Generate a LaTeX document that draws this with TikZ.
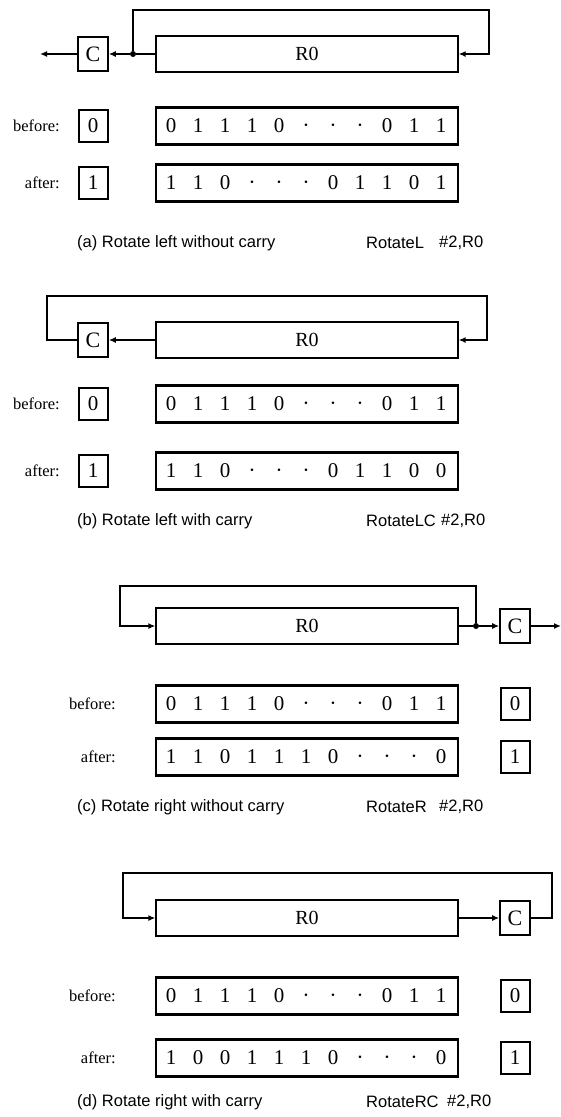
\documentclass[tikz,border=0pt]{standalone}
\usepackage{fontspec}
\setmainfont{Liberation Serif}
\newfontfamily\capfont{Liberation Sans}
\usetikzlibrary{arrows.meta,positioning}
\newcommand\bitdot{{\fontsize{30}{30}\selectfont$\cdot$}}
\tikzset{
  % Register on the shift path
  regbox/.style={rectangle,draw,line width=1.3pt,
    minimum width=302pt,minimum height=36pt,inner sep=0pt,
    font=\fontsize{20}{20}\selectfont},
  % Register contents (before / after)
  valbox/.style={rectangle,draw,line width=2.4pt,
    minimum width=302pt,minimum height=37pt,inner sep=0pt},
  % Carry flag on the shift path
  cbox/.style={rectangle,draw,line width=1.6pt,
    minimum width=30pt,minimum height=34pt,inner sep=0pt,
    font=\fontsize{22}{22}\selectfont},
  % Carry flag contents
  flagbox/.style={rectangle,draw,line width=2pt,
    minimum width=29pt,minimum height=32pt,inner sep=0pt,
    font=\fontsize{21}{21}\selectfont},
  bitnode/.style={inner sep=0pt,font=\fontsize{21}{21}\selectfont},
  rowlbl/.style={anchor=east,inner sep=0pt,font=\fontsize{16.5}{16.5}\selectfont},
  capt/.style={anchor=west,inner sep=0pt,font=\capfont\fontsize{16.5}{16.5}\selectfont},
  % Connectors
  arr/.style={-{Latex[length=7pt,width=6pt]},line width=1.6pt},
  wire/.style={line width=1.6pt},
  jdot/.style={circle,fill,inner sep=0pt,minimum size=6pt},
}
\begin{document}
\begin{tikzpicture}[x=1pt,y=-1pt]
  \useasboundingbox (0,0) rectangle (561,1117);

  % (a) rotate left without carry
  \node[regbox] (ra) at (307,54) {R0};
  \node[cbox] (ca) at (93,54) {C};
  \node[jdot] (ja) at (133,54) {};
  \coordinate (outa) at (40,54);
  \coordinate (topa) at (489,10);
  \draw[arr] (ca.west) -- (outa);
  \draw[wire] (ra.west) -- (ja);
  \draw[arr] (ja) -- (ca.east);
  \draw[arr] (ja) |- (topa) |- (ra.east);

  \node[rowlbl] (la1) at (60,126) {before:};
  \node[flagbox] (fa1) at (93,126) {0};
  \node[valbox] (va1) at (307,126) {};
  \foreach \b [count=\i] in {0,1,1,1,0,\bitdot,\bitdot,\bitdot,0,1,1}
    \node[bitnode] (va1-\i) at (144+27*\i,126) {\b};

  \node[rowlbl] (la2) at (60,183) {after:};
  \node[flagbox] (fa2) at (93,183) {1};
  \node[valbox] (va2) at (307,183) {};
  \foreach \b [count=\i] in {1,1,0,\bitdot,\bitdot,\bitdot,0,1,1,0,1}
    \node[bitnode] (va2-\i) at (144+27*\i,183) {\b};

  \node[capt] (capa) at (77,243) {(a) Rotate left without carry};
  \node[capt] (opa) at (366,243) {RotateL};
  \node[capt] (arga) at (439,243) {\#2,R0};

  % (b) rotate left with carry
  \node[regbox] (rb) at (307,340) {R0};
  \node[cbox] (cb) at (93,340) {C};
  \coordinate (lftb) at (47,296);
  \coordinate (topb) at (487,296);
  \draw[arr] (rb.west) -- (cb.east);
  \draw[arr] (cb.west) -| (lftb) -- (topb) |- (rb.east);

  \node[rowlbl] (lb1) at (60,404) {before:};
  \node[flagbox] (fb1) at (93,404) {0};
  \node[valbox] (vb1) at (307,404) {};
  \foreach \b [count=\i] in {0,1,1,1,0,\bitdot,\bitdot,\bitdot,0,1,1}
    \node[bitnode] (vb1-\i) at (144+27*\i,404) {\b};

  \node[rowlbl] (lb2) at (60,471) {after:};
  \node[flagbox] (fb2) at (93,471) {1};
  \node[valbox] (vb2) at (307,471) {};
  \foreach \b [count=\i] in {1,1,0,\bitdot,\bitdot,\bitdot,0,1,1,0,0}
    \node[bitnode] (vb2-\i) at (144+27*\i,471) {\b};

  \node[capt] (capb) at (77,521) {(b) Rotate left with carry};
  \node[capt] (opb) at (366,521) {RotateLC};
  \node[capt] (argb) at (441,521) {\#2,R0};

  % (c) rotate right without carry
  \node[regbox] (rc) at (307,626) {R0};
  \node[cbox] (cc) at (515,626) {C};
  \node[jdot] (jc) at (476,626) {};
  \coordinate (outc) at (561,626);
  \coordinate (lftc) at (120,586);
  \draw[wire] (rc.east) -- (jc);
  \draw[arr] (jc) -- (cc.west);
  \draw[arr] (cc.east) -- (outc);
  \draw[arr] (jc) |- (lftc) |- (rc.west);

  \node[rowlbl] (lc1) at (116,704) {before:};
  \node[flagbox] (fc1) at (515,704) {0};
  \node[valbox] (vc1) at (307,704) {};
  \foreach \b [count=\i] in {0,1,1,1,0,\bitdot,\bitdot,\bitdot,0,1,1}
    \node[bitnode] (vc1-\i) at (144+27*\i,704) {\b};

  \node[rowlbl] (lc2) at (116,757) {after:};
  \node[flagbox] (fc2) at (515,757) {1};
  \node[valbox] (vc2) at (307,757) {};
  \foreach \b [count=\i] in {1,1,0,1,1,1,0,\bitdot,\bitdot,\bitdot,0}
    \node[bitnode] (vc2-\i) at (144+27*\i,757) {\b};

  \node[capt] (capc) at (77,807) {(c) Rotate right without carry};
  \node[capt] (opc) at (366,807) {RotateR};
  \node[capt] (argc) at (439,807) {\#2,R0};

  % (d) rotate right with carry
  \node[regbox] (rd) at (307,918) {R0};
  \node[cbox] (cd) at (515,918) {C};
  \coordinate (rgtd) at (552,873);
  \coordinate (lftd) at (123,873);
  \draw[arr] (rd.east) -- (cd.west);
  \draw[arr] (cd.east) -| (rgtd) -- (lftd) |- (rd.west);

  \node[rowlbl] (ld1) at (116,996) {before:};
  \node[flagbox] (fd1) at (515,996) {0};
  \node[valbox] (vd1) at (307,996) {};
  \foreach \b [count=\i] in {0,1,1,1,0,\bitdot,\bitdot,\bitdot,0,1,1}
    \node[bitnode] (vd1-\i) at (144+27*\i,996) {\b};

  \node[rowlbl] (ld2) at (116,1058) {after:};
  \node[flagbox] (fd2) at (515,1058) {1};
  \node[valbox] (vd2) at (307,1058) {};
  \foreach \b [count=\i] in {1,0,0,1,1,1,0,\bitdot,\bitdot,\bitdot,0}
    \node[bitnode] (vd2-\i) at (144+27*\i,1058) {\b};

  \node[capt] (capd) at (77,1102) {(d) Rotate right with carry};
  \node[capt] (opd) at (366,1102) {RotateRC};
  \node[capt] (argd) at (447,1102) {\#2,R0};
\end{tikzpicture}
\end{document}
